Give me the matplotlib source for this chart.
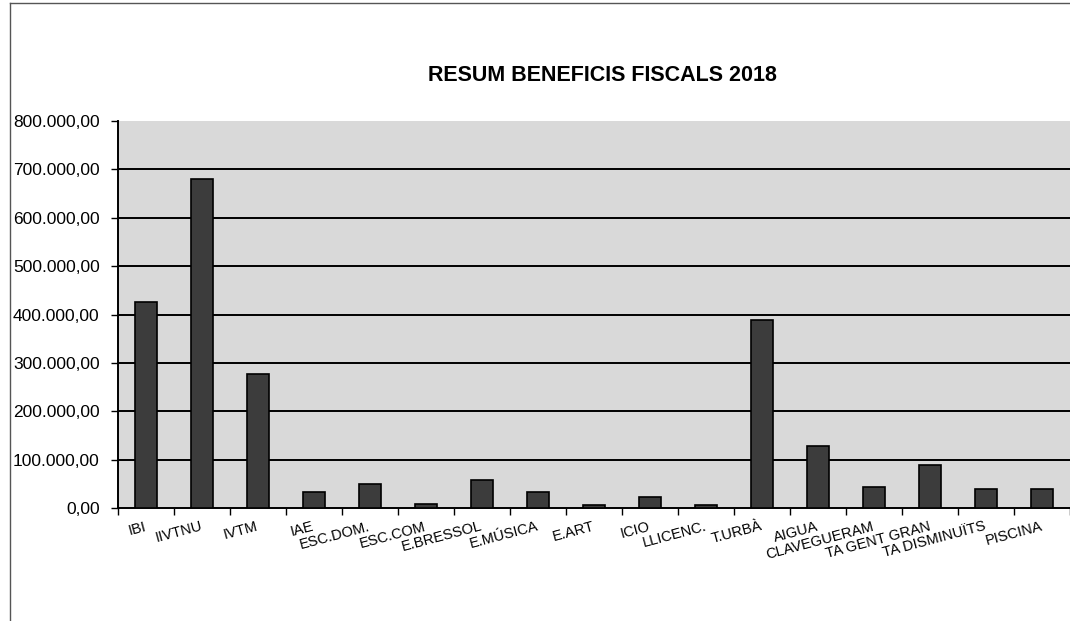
import numpy as np
import matplotlib.pyplot as plt
from matplotlib.lines import Line2D

plt.rcParams['font.family'] = ['Liberation Sans', 'DejaVu Sans']

conceptes = ['IBI', 'IIVTNU', 'IVTM', 'IAE', 'ESC.DOM.', 'ESC.COM', 'E.BRESSOL',
             'E.MÚSICA', 'E.ART', 'ICIO', 'LLICENC.', 'T.URBÀ', 'AIGUA',
             'CLAVEGUERAM', 'TA GENT GRAN', 'TA DISMINUÏTS', 'PISCINA']
imports = [426000, 680000, 278000, 33000, 49000, 8000, 57000,
           33000, 6000, 23000, 6000, 388000, 129000,
           43000, 89000, 40000, 40000]
yticks = [0, 100000, 200000, 300000, 400000, 500000, 600000, 700000, 800000]
titol = 'RESUM BENEFICIS FISCALS 2018'


def fmt(v):
    s = '{:,.2f}'.format(v)
    return s.replace(',', 'X').replace('.', ',').replace('X', '.')


fig = plt.figure(figsize=(10.7, 6.21), dpi=100)
ax = fig.add_axes([0.110, 0.182, 0.890, 0.623])
ax.set_facecolor('#d9d9d9')

x = np.arange(len(conceptes))
ax.bar(x, imports, width=0.4, color='#3c3c3c', edgecolor='black', linewidth=1.2, zorder=3)

ax.set_xlim(-0.5, len(conceptes) - 0.5)
ax.set_ylim(0, 800000)
ax.set_yticks(yticks)
ax.set_yticklabels([fmt(v) for v in yticks], fontsize=12.5)
for v in yticks[1:-1]:
    ax.axhline(v, color='black', lw=1.4, zorder=2)

ax.set_xticks(x)
ax.set_xticklabels(conceptes, fontsize=10.5, rotation=15, ha='right',
                   va='center', rotation_mode='anchor')
ax.set_xticks(np.arange(len(conceptes) + 1) - 0.5, minor=True)
ax.tick_params(axis='x', which='major', length=0, pad=13)
ax.tick_params(axis='x', which='minor', length=5, width=1, direction='out')
ax.tick_params(axis='y', length=5, width=1, direction='out', pad=8)

for s in ['top', 'right']:
    ax.spines[s].set_visible(False)
ax.spines['left'].set_linewidth(1.4)
ax.spines['bottom'].set_linewidth(1.4)

fig.text(0.563, 0.879, titol, fontsize=15.5, fontweight='bold', ha='center', va='center')

# marc del document escanejat
fig.add_artist(Line2D([0.009, 1.0], [0.995, 0.995], color='#555555', lw=1))
fig.add_artist(Line2D([0.009, 0.009], [0.0, 0.995], color='#555555', lw=1))

fig.savefig('out.png', dpi=100)
